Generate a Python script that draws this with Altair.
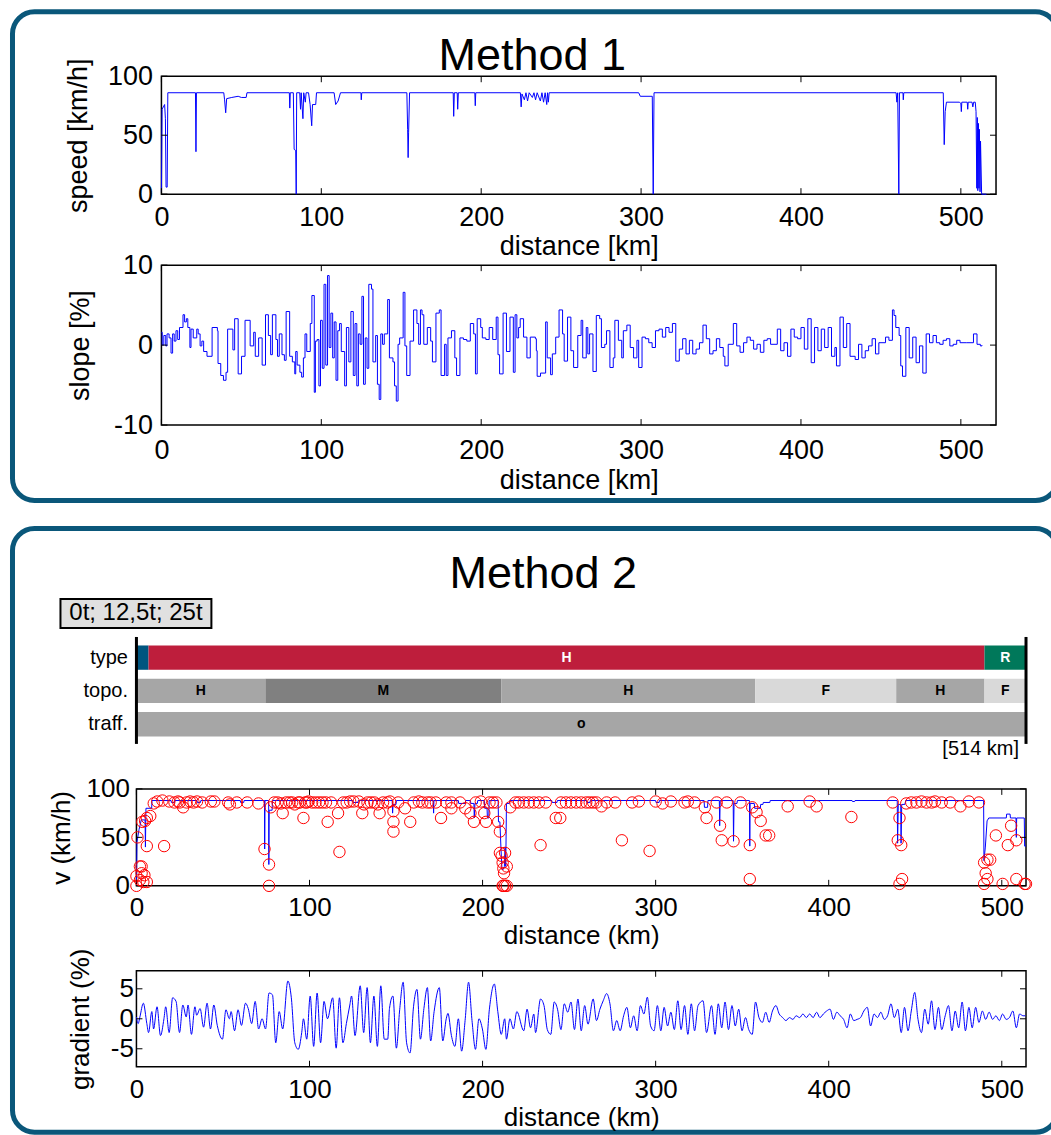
import altair as alt
import pandas as pd

FONT = "Liberation Sans, Arial, sans-serif"
LINE_BLUE = "#0000ff"
BORDER = "#0a577a"

# ---------------- Method 1 : speed [km/h] vs distance [km]
SPEED = [(0.0, 2), (0.4, 72), (1.2, 74), (2.0, 76), (2.5, 64), (2.9, 6), (3.6, 6), (4.0, 86),
         (21.3, 86), (21.6, 36), (21.9, 86), (39.0, 86), (39.5, 80), (40.2, 69), (40.8, 81),
         (44.0, 82), (48.0, 83), (50.0, 82), (53.0, 82), (53.5, 86), (80.0, 86), (80.3, 73),
         (80.6, 86), (82.5, 86), (83.0, 38), (84.0, 37), (84.3, 0), (84.6, 86), (86.5, 86),
         (87.0, 72), (87.4, 86), (88.5, 64), (89.0, 86), (90.0, 78), (90.5, 86), (92.0, 86),
         (93.0, 76), (94.0, 58), (94.5, 76), (96.5, 76), (97.0, 86), (108.0, 86), (109.0, 76),
         (110.5, 79), (112.0, 86), (124.8, 86), (125.0, 80), (125.3, 86), (153.5, 86),
         (154.0, 55), (154.3, 31), (154.6, 52), (155.2, 86), (182.5, 86), (182.8, 66),
         (183.2, 86), (185.0, 86), (185.3, 72), (185.7, 86), (196.0, 86), (196.3, 75),
         (196.6, 86), (224.5, 86), (225.0, 74), (225.5, 85), (227.0, 80), (228.0, 86),
         (229.0, 79), (230.0, 86), (232.0, 82), (233.0, 86), (234.0, 80), (235.0, 86),
         (237.0, 79), (238.0, 86), (239.0, 78), (240.0, 86), (241.0, 76), (241.5, 86),
         (242.0, 78), (242.5, 86), (298.5, 86), (299.5, 83), (307.0, 83), (307.6, 0),
         (308.1, 86), (459.5, 86), (460.0, 78), (460.5, 86), (461.2, 0), (461.6, 86),
         (463.8, 86), (464.0, 80), (464.3, 86), (489.0, 86), (489.6, 42), (490.2, 70),
         (491.0, 78), (499.0, 78), (500.0, 77), (500.3, 70), (500.6, 78), (504.0, 78),
         (504.3, 72), (504.6, 78), (507.0, 78), (507.5, 74), (508.0, 78), (509.0, 78),
         (509.5, 70), (510.0, 5), (510.3, 65), (510.6, 3), (511.0, 60), (511.3, 5),
         (511.6, 55), (512.0, 2), (512.3, 45), (513.0, 0), (516.0, 0)]

# ---------------- Method 1 : slope [%] vs distance [km] (step values)
SLOPE = [(0.0, 1.6), (0.5, 0.0), (1.5, 1.2), (2.7, -0.1), (3.5, 1.4), (4.8, 0.9), (6.0, -1.0),
         (7.0, 1.4), (8.0, 0.5), (9.1, 1.8), (10.2, 0.7), (11.3, 2.2), (13.5, 3.8), (14.5, 2.9),
         (15.6, 3.3), (16.5, 2.2), (17.8, -0.3), (18.5, 2.0), (19.9, 0.9), (22.1, 2.0),
         (23.0, 1.4), (24.2, -0.1), (25.3, 0.5), (26.4, -0.8), (28.5, -1.4), (31.7, 2.2),
         (35.0, 1.8), (35.4, -2.3), (37.1, -3.8), (38.8, -4.4), (40.4, -3.4), (41.4, 2.0),
         (44.7, -0.6), (45.8, 3.3), (48.0, -3.6), (50.1, -1.4), (52.3, 3.1), (55.5, -0.1),
         (57.7, 1.6), (58.7, -1.4), (60.8, 0.9), (63.0, -2.5), (65.1, 3.8), (66.9, 1.2),
         (68.3, -1.2), (69.4, 3.8), (71.6, 0.7), (72.6, -1.4), (73.7, 1.4), (75.4, -1.2),
         (76.9, -1.9), (78.0, 4.2), (80.2, -1.4), (81.9, -2.1), (83.4, -3.6), (84.0, -0.8),
         (84.9, -2.5), (86.6, -3.4), (87.7, -4.0), (88.8, -1.6), (89.8, 1.4), (90.9, -0.8),
         (93.1, 2.7), (94.1, 6.2), (95.6, -5.9), (96.3, 0.5), (97.4, 0.7), (98.5, -5.1),
         (99.5, 3.1), (100.6, -2.9), (101.7, 7.6), (102.8, -2.5), (103.9, 8.7), (104.9, -0.3),
         (106.0, 4.0), (107.1, -1.6), (108.1, 2.9), (109.2, -4.4), (110.3, 1.8), (111.4, 2.7),
         (112.5, -0.8), (114.6, -5.1), (115.7, 2.2), (117.2, -2.1), (118.5, 4.2), (120.0, -3.8),
         (121.1, 2.7), (122.2, -5.1), (123.2, 1.4), (124.3, 0.1), (125.4, 6.1), (126.4, -4.9),
         (127.5, 0.9), (128.6, -2.9), (129.7, 7.6), (131.4, 7.0), (132.3, -2.1), (134.0, 1.2),
         (135.1, -4.9), (136.2, -6.8), (137.2, 1.4), (138.3, 0.1), (139.4, 1.4), (141.5, 5.7),
         (142.6, -1.6), (144.8, -2.1), (145.8, -5.1), (146.9, -7.0), (148.0, 0.1), (149.0, 0.9),
         (151.2, 6.6), (152.3, -0.1), (153.4, -3.8), (155.5, 0.5), (157.7, 4.4), (159.8, 2.7),
         (160.9, 0.1), (162.0, 4.4), (163.0, 3.8), (164.1, 0.1), (166.3, 2.2), (168.4, 0.5),
         (169.5, -2.1), (171.7, 4.0), (173.8, 4.4), (174.9, -3.8), (177.1, 0.1), (178.1, -3.8),
         (179.2, 0.9), (181.4, 1.8), (183.5, -1.6), (184.6, -3.8), (186.7, 0.9), (188.9, 0.7),
         (191.0, 0.5), (193.2, 2.7), (195.3, 1.4), (196.4, -3.6), (197.5, 3.3), (199.7, 2.2),
         (200.7, 0.9), (202.9, 0.7), (205.0, 2.2), (207.2, 0.7), (209.4, 3.5), (210.5, -1.2),
         (211.5, -3.6), (213.7, 4.0), (215.8, -0.8), (218.0, 3.5), (220.1, -3.4), (221.2, 3.8),
         (222.3, 0.9), (223.4, 2.2), (224.4, 3.3), (226.5, 1.0), (228.6, -1.6), (230.7, 1.0),
         (233.9, 0.8), (234.5, -0.7), (235.0, -3.9), (237.1, -3.5), (240.3, 2.9), (241.3, -1.6),
         (243.4, -3.7), (244.5, -1.1), (246.6, 1.0), (248.7, 4.4), (250.9, 1.4), (251.9, -2.0),
         (254.0, 3.5), (256.1, -0.7), (257.8, -2.8), (260.4, 1.2), (262.5, 3.1), (263.5, -1.6),
         (265.7, 2.2), (266.7, -1.1), (267.8, 1.4), (269.9, -3.3), (272.0, 3.7), (274.1, 3.3),
         (275.2, -0.3), (277.3, 0.1), (278.4, 1.8), (280.5, -2.8), (282.6, -1.6), (283.6, 3.1),
         (285.8, 0.6), (287.9, -1.6), (288.9, 1.8), (291.1, 2.5), (293.2, -0.3), (295.3, -1.6),
         (297.4, 0.6), (298.5, -2.8), (300.6, 1.0), (302.7, 0.8), (304.8, 0.3), (306.9, -0.3),
         (309.0, 1.8), (311.2, 2.0), (313.3, 1.0), (315.4, 2.2), (317.5, 1.6), (319.6, 2.7),
         (321.7, -2.0), (323.9, -0.5), (326.0, 0.8), (328.1, -1.1), (330.2, 0.6), (332.3, -1.1),
         (334.4, -0.5), (336.5, 0.3), (338.7, 2.5), (340.8, 0.8), (342.9, -1.1), (345.0, -0.7),
         (347.1, 0.8), (349.2, -0.3), (351.4, -1.4), (352.4, -2.6), (354.5, 0.1), (357.7, 2.7),
         (359.8, -0.1), (361.9, -0.9), (364.1, 0.3), (366.2, 1.0), (368.3, 0.6), (370.4, -0.5),
         (372.5, 0.1), (374.6, -0.9), (376.8, 0.6), (378.9, 0.8), (381.0, 0.1), (385.2, 2.0),
         (387.3, -0.7), (389.4, 0.3), (391.6, -1.4), (393.7, 2.0), (395.8, 1.0), (397.9, 0.8),
         (400.0, 2.2), (402.1, -0.5), (404.3, 3.3), (406.4, -2.2), (408.5, 2.2), (410.6, -0.7),
         (412.7, 2.0), (414.8, -0.3), (417.0, 2.2), (419.1, -1.4), (421.2, -0.3), (422.2, -2.6),
         (424.4, 3.5), (426.5, -0.3), (428.6, 2.7), (430.7, -1.4), (433.9, -1.8), (436.0, 0.1),
         (438.1, -1.6), (440.2, -0.7), (442.3, -0.1), (444.5, 0.8), (446.6, -1.1), (448.7, 0.3),
         (452.9, 1.0), (455.0, 0.6), (457.2, 4.4), (458.2, 3.7), (459.3, 2.2), (461.4, 1.2),
         (462.4, -2.6), (463.5, -3.9), (465.6, 2.2), (467.7, -1.6), (469.9, 1.0), (472.0, -2.2),
         (474.1, -0.1), (476.2, -3.5), (478.3, 1.4), (480.4, 0.3), (482.6, 1.2), (484.7, 0.3),
         (486.8, 0.1), (488.9, 0.6), (491.0, 0.8), (493.1, -0.1), (495.2, 0.1), (497.4, 0.6),
         (499.5, 0.3), (503.7, 0.3), (507.9, 1.4), (510.1, 0.1), (512.2, -0.1), (513.2, 0.0)]

# ---------------- Method 2 : route attributes
ROWS = ["type", "topo.", "traff."]
TYPE_SEG = [(0, 7, "", "#00557f", "white"), (7, 490, "H", "#be1e3c", "white"),
            (490, 514, "R", "#00785a", "white")]
TOPO_SEG = [(0, 74.5, "H", "#a6a6a6", "black"), (74.5, 210.8, "M", "#808080", "black"),
            (210.8, 357.5, "H", "#a6a6a6", "black"), (357.5, 439, "F", "#d9d9d9", "black"),
            (439, 490, "H", "#a6a6a6", "black"), (490, 514, "F", "#d9d9d9", "black")]
TRAFF_SEG = [(0, 514, "o", "#a6a6a6", "black")]
ROUTE_LEN = 514

# ---------------- Method 2 : v (km/h) simulated (line) and measured (circles)
V_LINE = [(0, 0), (0.3, 45), (1.5, 58), (2.8, 68), (5.0, 68), (5.2, 40), (5.5, 80), (8.8, 80),
          (9.0, 88), (20.0, 88), (20.2, 86), (22.0, 86), (22.2, 88), (35.0, 88), (35.2, 86),
          (37.0, 86), (37.2, 88), (60.0, 88), (60.2, 86), (62.0, 86), (62.2, 88), (74.0, 88),
          (74.1, 38), (74.3, 88), (76.4, 88), (76.5, 22), (76.7, 78), (78.4, 78), (78.6, 88),
          (125.0, 88), (125.2, 86), (128.0, 86), (128.2, 88), (147.8, 88), (148.0, 75),
          (148.3, 84), (150.0, 84), (150.2, 88), (171.5, 88), (171.7, 75), (171.9, 88),
          (186.0, 88), (186.2, 85), (190.0, 85), (190.2, 88), (193.0, 88), (193.2, 85),
          (195.0, 85), (195.2, 70), (195.6, 85), (197.0, 85), (197.2, 88), (201.0, 88),
          (201.2, 80), (202.6, 80), (202.8, 70), (203.6, 70), (203.8, 88), (209.0, 88),
          (209.2, 66), (210.0, 66), (210.6, 40), (211.2, 17), (212.0, 17), (212.6, 20),
          (213.0, 40), (213.4, 20), (213.8, 85), (215.5, 85), (215.7, 88), (240.0, 88),
          (240.2, 86), (243.0, 86), (243.2, 88), (260.0, 88), (260.2, 86), (262.0, 86),
          (262.2, 88), (300.0, 88), (300.2, 86), (302.0, 86), (302.2, 88), (328.0, 88),
          (328.2, 81), (330.0, 81), (330.2, 88), (336.8, 88), (337.0, 62), (337.3, 88),
          (344.8, 88), (345.0, 46), (345.3, 85), (347.0, 85), (347.2, 88), (354.2, 88),
          (354.4, 41), (354.6, 85), (357.0, 85), (357.2, 80), (360.5, 80), (360.7, 84),
          (362.0, 84), (362.2, 86), (366.0, 86), (366.2, 88), (413.5, 88), (413.7, 87),
          (415.0, 87), (415.2, 88), (439.6, 88), (439.8, 44), (440.2, 84), (441.6, 84),
          (441.8, 44), (442.2, 84), (444.0, 84), (444.5, 88), (489.5, 88), (489.7, 26),
          (490.5, 40), (491.5, 67), (492.5, 70), (502.6, 70), (502.8, 74), (504.8, 74),
          (505.0, 70), (508.2, 70), (508.4, 50), (508.6, 70), (513.0, 70), (513.2, 41),
          (514.0, 41)]

V_POINTS = [(0.6, 50), (0.0, 10), (0.0, 0), (2.0, 20), (3.0, 20), (3.0, 13), (3.4, 66), (5.0, 67),
            (6.0, 70), (2.0, 6), (4.0, 4), (6.0, 4), (4.6, 11), (6.0, 41), (8.0, 72), (10.0, 85),
            (12.0, 87), (15.0, 88), (16.0, 41), (19.0, 87), (22.0, 86), (24.0, 87), (25.0, 86),
            (27.0, 81), (29.0, 86), (31.0, 87), (33.0, 86), (35.0, 87), (38.0, 86), (43.0, 87),
            (45.0, 87), (53.0, 86), (54.0, 84), (58.0, 86), (64.0, 86), (70.5, 85), (74.0, 38),
            (76.6, 22), (76.6, 0), (77.6, 81), (79.6, 86), (81.6, 86), (83.5, 85), (84.5, 75),
            (86.5, 86), (88.5, 86), (90.0, 86), (91.5, 84), (93.5, 86), (94.5, 86), (96.5, 70),
            (97.5, 86), (98.5, 86), (99.5, 87), (101.5, 86), (103.5, 86), (105.5, 86),
            (107.5, 86), (109.5, 86), (110.5, 66), (112.5, 86), (116.5, 75), (117.3, 35),
            (119.5, 86), (121.5, 86), (123.5, 87), (125.5, 87), (128.5, 87), (130.5, 75),
            (131.5, 84), (133.5, 86), (135.5, 86), (137.5, 86), (139.5, 84), (140.5, 75),
            (142.5, 86), (145.0, 86), (146.5, 87), (148.5, 77), (148.5, 66), (148.5, 56),
            (151.2, 86), (155.2, 80), (158.2, 66), (160.2, 86), (163.2, 87), (165.2, 86),
            (168.2, 86), (170.0, 86), (173.0, 86), (176.0, 70), (179.0, 86), (182.0, 86),
            (182.0, 80), (187.0, 86), (190.0, 80), (193.0, 75), (195.0, 66), (196.0, 86),
            (199.0, 87), (201.0, 75), (202.0, 66), (204.0, 86), (206.0, 86), (208.0, 86),
            (209.0, 66), (210.0, 56), (210.0, 34), (211.0, 31), (211.6, 24), (212.0, 18),
            (212.4, 13), (213.0, 34), (211.6, 0), (212.0, 0), (213.0, 0), (214.0, 20), (214.0, 0),
            (216.0, 81), (219.0, 86), (221.0, 86), (223.8, 86), (226.7, 86), (229.6, 86),
            (232.6, 86), (236.5, 86), (233.5, 42), (242.3, 70), (244.9, 70), (245.3, 86),
            (248.2, 86), (251.1, 86), (254.1, 86), (257.0, 86), (259.9, 86), (261.9, 86),
            (263.9, 86), (265.8, 86), (268.7, 82), (271.7, 86), (276.6, 86), (280.5, 47),
            (286.4, 86), (290.3, 87), (296.5, 36), (300.0, 87), (304.0, 85), (308.8, 87),
            (316.7, 86), (318.6, 87), (322.5, 86), (328.4, 81), (329.4, 70), (335.3, 86),
            (341.1, 86), (337.2, 62), (338.2, 47), (345.0, 46), (349.0, 86), (354.4, 42),
            (354.4, 7), (355.8, 81), (358.3, 76), (360.7, 67), (363.6, 52), (365.6, 52),
            (376.3, 82), (389.0, 87), (393.0, 82), (413.1, 71), (437.0, 86), (439.9, 47),
            (441.9, 42), (440.9, 70), (440.9, 2), (442.4, 7), (444.8, 85), (447.7, 86),
            (450.7, 86), (453.6, 87), (456.5, 86), (459.5, 86), (461.4, 87), (465.3, 86),
            (470.2, 86), (476.1, 82), (481.0, 87), (486.8, 86), (489.8, 24), (491.7, 27),
            (493.3, 27), (490.7, 13), (491.7, 7), (489.8, 2), (496.6, 52), (500.5, 2),
            (503.5, 42), (505.4, 62), (508.4, 47), (508.4, 7), (513.2, 2), (514.0, 2)]

# ---------------- Method 2 : gradient (%) vs distance (km)
GRAD = [(0.0, 0.3), (1.0, -0.8), (2.0, 0.3), (4.0, 2.6), (6.0, -0.8), (7.0, -2.3), (8.9, 1.2),
        (9.9, -1.7), (11.9, 2.0), (13.9, -2.8), (15.9, 0.0), (16.9, 2.0), (18.9, -2.3),
        (20.9, 3.5), (22.9, 2.9), (24.9, -2.3), (26.8, 2.3), (28.8, 0.3), (29.8, 2.3),
        (31.8, -2.6), (33.8, 2.0), (34.8, 0.6), (36.8, 1.7), (38.8, -1.4), (40.8, 2.6),
        (42.8, -1.7), (44.7, 2.3), (46.7, -1.1), (49.7, -3.4), (51.7, 1.5), (53.7, 0.0),
        (54.7, 1.2), (56.7, -2.0), (58.7, 1.5), (60.7, -1.1), (63.0, 2.6), (64.6, 1.7),
        (66.6, -0.8), (68.6, 2.9), (70.6, -1.7), (72.6, 0.0), (74.6, -1.7), (76.6, 4.3),
        (78.6, 4.0), (80.5, -4.0), (82.5, 1.2), (84.5, -1.7), (87.5, 6.3), (89.5, 3.5),
        (91.5, -4.0), (93.5, -5.1), (95.5, -2.3), (96.5, 0.0), (98.4, -3.4), (100.4, 3.8),
        (102.4, -4.6), (104.4, 4.3), (106.4, -4.0), (108.4, 2.9), (110.4, 0.0), (113.4, 3.5),
        (115.4, -4.9), (117.3, 3.5), (119.3, -4.0), (121.3, -0.8), (123.3, 2.3), (124.3, 3.8),
        (126.3, -2.8), (129.3, 5.5), (131.3, -2.3), (133.3, 5.2), (135.2, -4.0), (137.2, 3.8),
        (139.2, -4.6), (141.2, 5.5), (143.2, -3.4), (145.2, -3.4), (146.2, 1.7), (148.2, 3.8),
        (150.2, -4.9), (152.1, 1.5), (154.1, 6.1), (156.1, -4.0), (158.1, -5.7), (160.1, 2.0),
        (162.1, 4.9), (164.1, -3.4), (166.1, 1.7), (168.1, 5.2), (170.0, -3.7), (172.0, 1.2),
        (175.0, 5.2), (177.0, -3.7), (179.0, 0.0), (180.0, 0.9), (182.0, -2.8), (184.0, -4.6),
        (186.0, 0.0), (187.9, -5.4), (189.9, -0.3), (191.9, 6.1), (193.9, -0.3), (195.9, -5.1),
        (197.9, 0.0), (199.9, -1.7), (201.9, -5.1), (203.9, 1.5), (206.8, 5.8), (208.8, 1.2),
        (210.8, -2.6), (212.8, 0.0), (213.8, -3.4), (215.8, 0.0), (217.8, -1.7), (219.8, 1.2),
        (223.8, -2.0), (225.7, 1.6), (227.7, -1.5), (229.6, 0.8), (230.6, -2.3), (233.5, 3.3),
        (235.5, 2.2), (237.4, -1.8), (239.4, -2.6), (241.4, 2.8), (243.3, 1.6), (245.3, -1.8),
        (247.2, 2.5), (249.2, 1.1), (251.1, 2.8), (253.1, -1.8), (255.1, 3.3), (257.0, -2.0),
        (259.0, 2.2), (260.9, -0.9), (263.9, 3.3), (265.8, -0.3), (267.8, 1.6), (269.7, 3.0),
        (271.7, 4.2), (273.6, 2.5), (275.6, -2.0), (277.5, -0.3), (279.5, -2.0), (281.5, 0.5),
        (283.4, 1.9), (285.4, -1.5), (287.3, 0.5), (289.3, -2.0), (291.2, 2.2), (293.2, 0.8),
        (295.2, 3.6), (297.1, -1.2), (299.1, -2.0), (301.0, 2.2), (303.0, -2.0), (304.9, 1.9),
        (306.9, -1.2), (308.8, 1.1), (310.8, -1.8), (312.8, 3.0), (314.7, -1.8), (316.7, 2.2),
        (318.6, -2.6), (320.6, 2.5), (322.5, -2.0), (324.5, 2.2), (327.4, 3.0), (329.4, -2.3),
        (332.3, 2.2), (334.3, -2.6), (336.2, 2.5), (338.2, -1.5), (340.1, 2.8), (342.1, -1.8),
        (344.1, 2.2), (346.0, -1.2), (348.0, 1.6), (349.9, -2.0), (351.9, 0.2), (353.8, -1.8),
        (355.8, -2.6), (357.7, 2.8), (359.7, 0.2), (361.7, -0.6), (363.6, 1.1), (365.6, -0.6),
        (367.5, 1.3), (369.5, 2.2), (371.4, 0.8), (373.4, 0.2), (375.3, -0.3), (377.3, 0.2),
        (379.3, -0.1), (381.2, 0.5), (383.2, 0.2), (385.1, 0.8), (387.1, 0.2), (389.0, 0.8),
        (391.0, 0.2), (393.0, 1.1), (394.9, 0.2), (396.9, 0.8), (398.8, 1.3), (400.8, 1.6),
        (402.7, -0.1), (404.7, 1.1), (406.6, 0.5), (408.6, -0.1), (410.6, -1.5), (412.5, 0.8),
        (414.5, -0.3), (416.4, -0.1), (418.4, 0.2), (420.3, 1.3), (422.3, 1.9), (424.2, -1.2),
        (426.2, 0.8), (428.2, 0.2), (430.1, 1.1), (432.1, -0.1), (434.0, 0.5), (436.0, 2.5),
        (437.9, 0.2), (439.9, 1.6), (441.9, -2.3), (443.8, 1.9), (445.8, -2.0), (447.7, 1.3),
        (449.7, 4.4), (451.6, -0.1), (453.6, -2.3), (455.5, 1.6), (457.5, -0.9), (459.4, 3.0),
        (461.4, -1.8), (463.4, 1.9), (465.3, -1.8), (467.3, 0.5), (469.2, 2.2), (471.2, -2.0),
        (473.1, 1.3), (475.1, -1.5), (477.1, 2.8), (479.0, -2.0), (481.0, 1.9), (482.9, -1.5),
        (484.9, 1.9), (486.8, -0.6), (488.8, 1.3), (490.7, -0.1), (492.7, 1.1), (494.7, -0.1),
        (496.6, 0.5), (498.6, -0.3), (500.5, 0.8), (502.5, -0.1), (504.4, 0.2), (506.4, 1.3),
        (508.4, -1.5), (510.3, 0.8), (512.3, 0.5), (513.6, 0.5)]

# ---------------- axis tick values
X_TICKS = [0, 100, 200, 300, 400, 500]
SPEED_TICKS = [0, 50, 100]
SLOPE_TICKS = [-10, 0, 10]
V_TICKS = [0, 50, 100]
GRAD_TICKS = [-5, 0, 5]

# ---------------- layout (pixels)
W1, X1_0 = 860, 25          # Method 1 panels: plot spans x 25..860
W2 = 890                     # Method 2 panels
H_SPEED, H_SLOPE, H_BARS, H_V, H_GRAD = 118, 160, 107, 97, 96
TL = 6                       # inner tick length
HYPHEN_LABEL = "replace(datum.label, '\u2212', '-')"

one = pd.DataFrame({"d": [0]})


def xaxis(title, size, lp, tp):
    return alt.Axis(title=title, values=X_TICKS, labelFontSize=size, titleFontSize=size,
                    labelPadding=lp, titlePadding=tp, labelFlush=False, labelOverlap=False,
                    ticks=False, domain=False, grid=False)


def yaxis(title, values, size, lp, tp, offset=0):
    return alt.Axis(title=title, values=values, labelFontSize=size, titleFontSize=size,
                    labelPadding=lp, titlePadding=tp, labelFlush=False, labelOverlap=False,
                    ticks=False, domain=False, grid=False, offset=offset,
                    labelExpr=HYPHEN_LABEL)


def frame(x0, x1, h):
    return alt.Chart(one).mark_rect(fillOpacity=0, stroke="black", strokeWidth=1.5).encode(
        x=alt.value(x0), x2=alt.value(x1), y=alt.value(0), y2=alt.value(h))


def ticks(xs, xax, xvals, ys, yax, yvals, x0, x1, h):
    # inner tick marks (the same axis objects are passed so the shared axes merge cleanly)
    dx = pd.DataFrame({"t": xvals})
    dy = pd.DataFrame({"t": yvals})
    r = dict(color="black", strokeWidth=1)
    return [
        alt.Chart(dx).mark_rule(**r).encode(x=alt.X("t:Q", scale=xs, axis=xax),
                                            y=alt.value(0), y2=alt.value(TL)),
        alt.Chart(dx).mark_rule(**r).encode(x=alt.X("t:Q", scale=xs, axis=xax),
                                            y=alt.value(h - TL), y2=alt.value(h)),
        alt.Chart(dy).mark_rule(**r).encode(y=alt.Y("t:Q", scale=ys, axis=yax),
                                            x=alt.value(x0), x2=alt.value(x0 + TL)),
        alt.Chart(dy).mark_rule(**r).encode(y=alt.Y("t:Q", scale=ys, axis=yax),
                                            x=alt.value(x1 - TL), x2=alt.value(x1)),
    ]


def border(x0, x1, y0, y1):
    return alt.Chart(one).mark_rect(fillOpacity=0, stroke=BORDER, strokeWidth=5,
                                    cornerRadius=22).encode(
        x=alt.value(x0), x2=alt.value(x1), y=alt.value(y0), y2=alt.value(y1))


def label(text, x, y, size, align="center", baseline="alphabetic", weight="normal"):
    return alt.Chart(one).mark_text(text=text, fontSize=size, font=FONT, align=align,
                                    baseline=baseline, color="black",
                                    fontWeight=weight).encode(x=alt.value(x), y=alt.value(y))


def spacer(h):
    return alt.Chart(one).mark_point(opacity=0).encode(
        x=alt.value(0), y=alt.value(0)).properties(width=10, height=h)


# ---------------- Method 1 speed
sx1 = alt.Scale(domain=[0, 522], range=[X1_0, W1], nice=False, zero=False)
sy_speed = alt.Scale(domain=[0, 100], nice=False, zero=False)
ax_speed_x = xaxis("distance [km]", 27, 10, 3)
ax_speed_y = yaxis("speed [km/h]", SPEED_TICKS, 27, 9, 15, -X1_0)
speed_line = alt.Chart(pd.DataFrame(SPEED, columns=["km", "v"])).mark_line(
    color=LINE_BLUE, strokeWidth=1).encode(
    x=alt.X("km:Q", scale=sx1, axis=ax_speed_x),
    y=alt.Y("v:Q", scale=sy_speed, axis=ax_speed_y))
speed = alt.layer(
    border(-124, 921.5, -64.5, 424.5),
    frame(X1_0, W1, H_SPEED),
    speed_line,
    *ticks(sx1, ax_speed_x, X_TICKS, sy_speed, ax_speed_y, SPEED_TICKS, X1_0, W1, H_SPEED),
    label("Method 1", 396, -6.6, 45),
).properties(width=W1, height=H_SPEED)

# ---------------- Method 1 slope
sy_slope = alt.Scale(domain=[-10, 10], nice=False, zero=False)
ax_slope_x = xaxis("distance [km]", 27, 12, 4)
ax_slope_y = yaxis("slope [%]", SLOPE_TICKS, 27, 9, 19, -X1_0)
slope_line = alt.Chart(pd.DataFrame(SLOPE, columns=["km", "s"])).mark_line(
    color=LINE_BLUE, strokeWidth=1, interpolate="step-after").encode(
    x=alt.X("km:Q", scale=sx1, axis=ax_slope_x),
    y=alt.Y("s:Q", scale=sy_slope, axis=ax_slope_y))
slope = alt.layer(
    frame(X1_0, W1, H_SLOPE),
    slope_line,
    *ticks(sx1, ax_slope_x, X_TICKS, sy_slope, ax_slope_y, SLOPE_TICKS, X1_0, W1, H_SLOPE),
).properties(width=W1, height=H_SLOPE)

# ---------------- Method 2 bars
segs = []
for row, lst in zip(ROWS, [TYPE_SEG, TOPO_SEG, TRAFF_SEG]):
    for a, b, lab, col, lcol in lst:
        segs.append({"row": row, "start": a, "end": b, "mid": (a + b) / 2,
                     "label": lab, "color": col, "lcolor": lcol})
bars_df = pd.DataFrame(segs)
bx = alt.Scale(domain=[0, ROUTE_LEN], nice=False, zero=False)
by = alt.Scale(domain=ROWS, range=[4, 104], paddingInner=0.27, paddingOuter=0.135)
ax_rows = alt.Axis(labelFontSize=20, labelPadding=9, ticks=False, domain=False, grid=False,
                   labelColor="black")
bar_rects = alt.Chart(bars_df).mark_rect().encode(
    x=alt.X("start:Q", scale=bx, axis=None), x2="end:Q",
    y=alt.Y("row:N", scale=by, sort=ROWS, axis=ax_rows, title=""),
    color=alt.Color("color:N", scale=None))
bar_text = alt.Chart(bars_df).mark_text(fontSize=14, fontWeight="bold", font=FONT).encode(
    x=alt.X("mid:Q", scale=bx, axis=None),
    y=alt.Y("row:N", scale=by, sort=ROWS, axis=ax_rows, title=""),
    text="label:N", color=alt.Color("lcolor:N", scale=None))
edges = alt.Chart(pd.DataFrame({"edge": [0, ROUTE_LEN]})).mark_rule(
    color="black", strokeWidth=3).encode(
    x=alt.X("edge:Q", scale=bx, axis=None), y=alt.value(0), y2=alt.value(H_BARS))
box = alt.Chart(one).mark_rect(fill="#e0e0e0", stroke="black", strokeWidth=2).encode(
    x=alt.value(-76), x2=alt.value(75), y=alt.value(-38), y2=alt.value(-9))
bars = alt.layer(
    border(-124, 921.5, -108.5, 495.5),
    bar_rects, bar_text, edges, box,
    label("0t; 12,5t; 25t", -0.5, -23.5, 24, baseline="middle"),
    label("Method 2", 407, -49, 45),
    label("[514 km]", 883, 112, 20, align="right", baseline="middle"),
).properties(width=W2, height=H_BARS)

# ---------------- Method 2 v
vx = alt.Scale(domain=[0, ROUTE_LEN], nice=False, zero=False)
vy = alt.Scale(domain=[0, 100], nice=False, zero=False)
ax_v_x = xaxis("distance (km)", 26, 9, 2)
ax_v_y = yaxis("v (km/h)", V_TICKS, 26, 7, 12)
v_line = alt.Chart(pd.DataFrame(V_LINE, columns=["km", "v"])).mark_line(
    color=LINE_BLUE, strokeWidth=1).encode(
    x=alt.X("km:Q", scale=vx, axis=ax_v_x),
    y=alt.Y("v:Q", scale=vy, axis=ax_v_y))
v_pts = alt.Chart(pd.DataFrame(V_POINTS, columns=["km", "v"])).mark_point(
    shape="circle", filled=False, color="#ff0000", size=130, strokeWidth=1, opacity=1).encode(
    x=alt.X("km:Q", scale=vx, axis=ax_v_x), y=alt.Y("v:Q", scale=vy, axis=ax_v_y))
vplot = alt.layer(
    frame(0, W2, H_V), v_line,
    *ticks(vx, ax_v_x, X_TICKS, vy, ax_v_y, V_TICKS, 0, W2, H_V),
    v_pts,
).properties(width=W2, height=H_V)

# ---------------- Method 2 gradient
gy = alt.Scale(domain=[-8, 8], nice=False, zero=False)
ax_g_x = xaxis("distance (km)", 26, 10, 2)
ax_g_y = yaxis("gradient (%)", GRAD_TICKS, 26, 3, 17)
g_line = alt.Chart(pd.DataFrame(GRAD, columns=["km", "g"])).mark_line(
    color=LINE_BLUE, strokeWidth=1, interpolate="monotone").encode(
    x=alt.X("km:Q", scale=vx, axis=ax_g_x),
    y=alt.Y("g:Q", scale=gy, axis=ax_g_y))
gplot = alt.layer(
    frame(0, W2, H_GRAD), g_line,
    *ticks(vx, ax_g_x, X_TICKS, gy, ax_g_y, GRAD_TICKS, 0, W2, H_GRAD),
).properties(width=W2, height=H_GRAD)

chart = alt.vconcat(
    speed, spacer(71), slope, spacer(212), bars, spacer(45), vplot, spacer(85), gplot,
    spacing=0, bounds="flush",
).properties(
    padding={"left": 9.5, "top": 9, "right": -9, "bottom": 0},
    background="white",
).configure_view(stroke=None).configure_axis(
    labelFont=FONT, titleFont=FONT, labelColor="black", titleColor="black",
    titleFontWeight="normal",
).configure_text(font=FONT)

chart.save("out.html", embed_options={"renderer": "svg", "actions": False})
